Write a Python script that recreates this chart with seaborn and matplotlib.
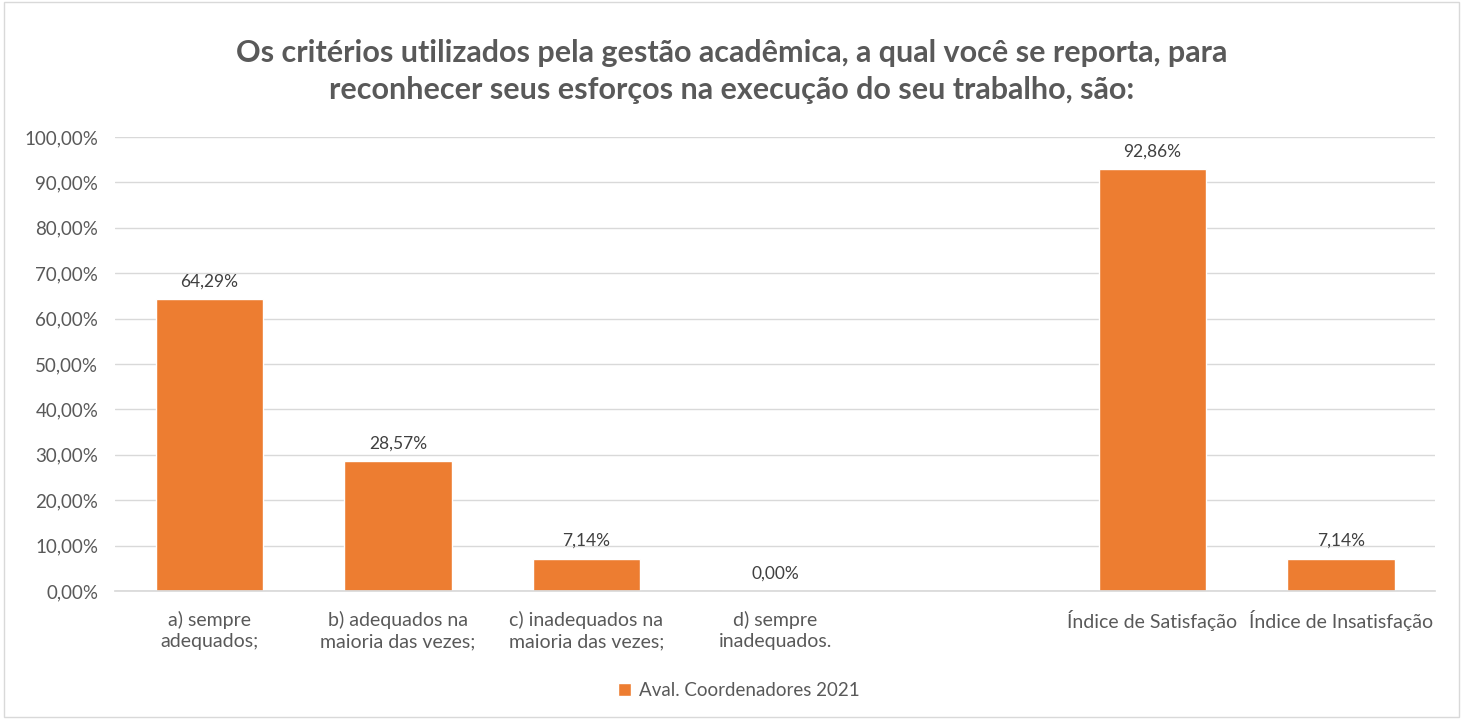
import matplotlib
matplotlib.use("Agg")
import matplotlib.pyplot as plt
import pandas as pd
import seaborn as sns
from matplotlib.patches import Rectangle, Patch

categories = ["a) sempre\nadequados;", "b) adequados na\nmaioria das vezes;",
              "c) inadequados na\nmaioria das vezes;", "d) sempre\ninadequados.",
              " ", "Índice de Satisfação", "Índice de Insatisfação"]
data_cats = ["a) sempre\nadequados;", "b) adequados na\nmaioria das vezes;",
             "c) inadequados na\nmaioria das vezes;", "d) sempre\ninadequados.",
             "Índice de Satisfação", "Índice de Insatisfação"]
values = [64.29, 28.57, 7.14, 0.00, 92.86, 7.14]
series_name = "Aval. Coordenadores 2021"
title = ("Os critérios utilizados pela gestão acadêmica, a qual você se reporta, para\n"
         "reconhecer seus esforços na execução do seu trabalho, são:")

df = pd.DataFrame({"cat": data_cats, "val": values})

sns.set_theme(style="white")
plt.rcParams["font.family"] = ["Lato", "DejaVu Sans"]

orange = "#ED7D31"
grey_txt = "#595959"

fig = plt.figure(figsize=(14.63, 7.19), dpi=100)
ax = fig.add_axes([0.0786, 0.178, 0.9024, 0.6315])

sns.barplot(data=df, x="cat", y="val", order=categories, color=orange,
            width=0.57, saturation=1, ax=ax)

for cont in ax.containers:
    ax.bar_label(cont, labels=[f"{v:.2f}%".replace(".", ",") for v in values],
                 padding=7, fontsize=12.5, color="#404040")

ax.set_ylim(0, 100)
ax.set_yticks(range(0, 101, 10))
ax.set_yticklabels([f"{t},00%" for t in range(0, 101, 10)])
ax.set_xlim(-0.5, len(categories) - 0.5)
ax.set_xlabel("")
ax.set_ylabel("")
ax.yaxis.grid(True, color="#D9D9D9", linewidth=1)
ax.set_axisbelow(True)
for s in ["top", "right", "left"]:
    ax.spines[s].set_visible(False)
ax.spines["bottom"].set_color("#D9D9D9")
ax.tick_params(axis="both", length=0, labelcolor=grey_txt)
ax.tick_params(axis="x", pad=14, labelsize=14)
ax.tick_params(axis="y", pad=12, labelsize=13.5)
for lbl in ax.get_xticklabels():
    lbl.set_linespacing(1.35)

fig.text(0.5, 0.901, title, ha="center", va="center", fontsize=22,
         fontweight="bold", color=grey_txt, linespacing=1.4)

fig.legend(handles=[Patch(facecolor=orange, label=series_name)],
           loc="center", bbox_to_anchor=(0.505, 0.04), frameon=False,
           fontsize=13.5, handlelength=0.7, handleheight=0.7, handletextpad=0.4,
           labelcolor=grey_txt)

fig.patches.append(Rectangle((0.003, 0.003), 0.994, 0.994, transform=fig.transFigure,
                             fill=False, edgecolor="#D9D9D9", linewidth=1))

fig.savefig("out.png", dpi=100)
